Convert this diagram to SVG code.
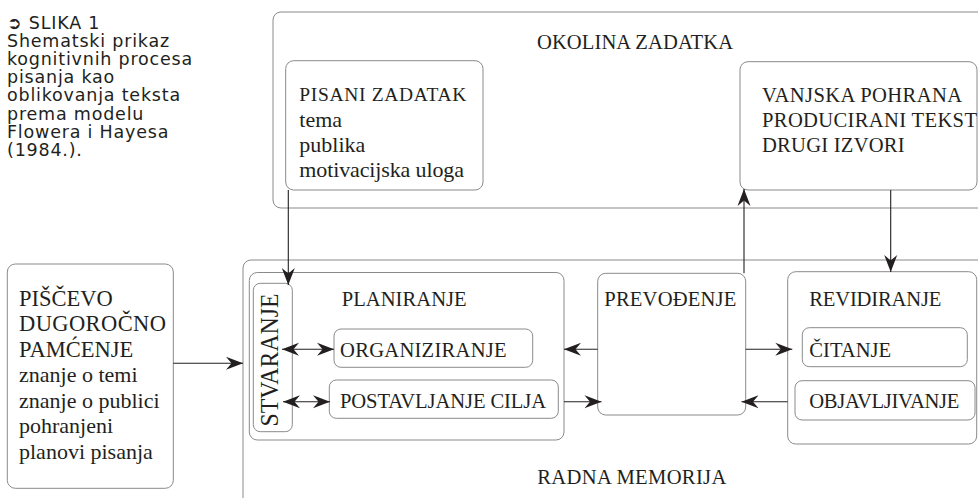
<svg xmlns="http://www.w3.org/2000/svg" width="978" height="498" viewBox="0 0 978 498">
<defs>
<style>
.box{fill:none;stroke:#8a8a8a;stroke-width:1}
.t{font-family:"Liberation Serif","Times New Roman",serif;font-size:20.6px;fill:#231f20}
.lc{font-size:22px}
.cap{font-family:"DejaVu Sans","Liberation Sans",sans-serif;font-size:17.5px;letter-spacing:0.8px;fill:#231f20}
.c{fill:none;stroke:#231f20;stroke-width:1.1}
</style>
<marker id="ah" viewBox="-18 -7 19 14" refX="0" refY="0" markerWidth="19" markerHeight="14" markerUnits="userSpaceOnUse" orient="auto-start-reverse">
<path d="M0,0 L-17,-6.5 L-11.5,0 L-17,6.5 Z" fill="#231f20"/>
</marker>
</defs>
<rect width="978" height="498" fill="#fff"/>

<g id="caption">
<text class="cap" x="7" y="28.5">➲ SLIKA 1</text>
<text class="cap" x="7" y="46.7">Shematski prikaz</text>
<text class="cap" x="7" y="64.9">kognitivnih procesa</text>
<text class="cap" x="7" y="83.1">pisanja kao</text>
<text class="cap" x="7" y="101.3">oblikovanja teksta</text>
<text class="cap" x="7" y="119.5">prema modelu</text>
<text class="cap" x="7" y="137.7">Flowera i Hayesa</text>
<text class="cap" x="7" y="155.9">(1984.).</text>
</g>

<g id="okolina">
<rect class="box" x="273" y="12" width="730" height="196" rx="8"/>
<text class="t" x="537" y="49" textLength="196">OKOLINA ZADATKA</text>
</g>

<g id="pisani">
<rect class="box" x="285.7" y="60.7" width="197.3" height="129.3" rx="8"/>
<text class="t" x="299.3" y="101" style="font-size:19.5px" textLength="167">PISANI ZADATAK</text>
<text class="t lc" x="299.3" y="126.7">tema</text>
<text class="t lc" x="299.3" y="151.7">publika</text>
<text class="t lc" x="299.3" y="176.7" textLength="164.7">motivacijska uloga</text>
</g>

<g id="vanjska">
<rect class="box" x="740" y="61.7" width="237" height="128.3" rx="8"/>
<text class="t" x="762" y="101.7" textLength="200">VANJSKA POHRANA</text>
<text class="t" x="762" y="126.7" textLength="215">PRODUCIRANI TEKST</text>
<text class="t" x="762" y="151.7" textLength="142.7">DRUGI IZVORI</text>
</g>

<g id="radna">
<rect class="box" x="243" y="260" width="760" height="280" rx="8"/>
<text class="t" x="537.3" y="484.3" textLength="189">RADNA MEMORIJA</text>
</g>

<g id="pisCevo">
<rect class="box" x="7.3" y="264" width="166" height="224.3" rx="8"/>
<text class="t" x="19" y="305.5" style="font-size:22.5px">PIŠČEVO</text>
<text class="t" x="19" y="331" style="font-size:22.5px" textLength="147">DUGOROČNO</text>
<text class="t" x="19" y="356.5" style="font-size:22.5px">PAMĆENJE</text>
<text class="t lc" x="19" y="382">znanje o temi</text>
<text class="t lc" x="19" y="407.5">znanje o publici</text>
<text class="t lc" x="19" y="433">pohranjeni</text>
<text class="t lc" x="19" y="458.5">planovi pisanja</text>
</g>

<g id="planiranje">
<rect class="box" x="249.3" y="272.5" width="314.7" height="167.5" rx="8"/>
<text class="t" x="341.7" y="306" textLength="125">PLANIRANJE</text>
</g>

<g id="stvaranje">
<rect class="box" x="253.3" y="283.3" width="39" height="148.4" rx="7"/>
<text class="t" transform="translate(278.3,360) rotate(-90)" x="0" y="0" text-anchor="middle" style="font-size:26px" textLength="133" lengthAdjust="spacingAndGlyphs">STVARANJE</text>
</g>

<g id="organiziranje">
<rect class="box" x="334" y="329" width="198.7" height="38.3" rx="7"/>
<text class="t" x="340" y="356.7" textLength="166.7">ORGANIZIRANJE</text>
</g>

<g id="postavljanje">
<rect class="box" x="329.3" y="380" width="229" height="38.3" rx="7"/>
<text class="t" x="340" y="407.7" textLength="206">POSTAVLJANJE CILJA</text>
</g>

<g id="prevodjenje">
<rect class="box" x="597.7" y="273.3" width="148" height="141.7" rx="8"/>
<text class="t" x="604.3" y="306" textLength="132">PREVOĐENJE</text>
</g>

<g id="revidiranje">
<rect class="box" x="787.7" y="271.7" width="189" height="172.3" rx="8"/>
<text class="t" x="809.3" y="306" textLength="132">REVIDIRANJE</text>
</g>

<g id="citanje">
<rect class="box" x="802.3" y="327.7" width="165" height="39" rx="7"/>
<text class="t" x="809.3" y="356.7">ČITANJE</text>
</g>

<g id="objavljivanje">
<rect class="box" x="795" y="380.7" width="180" height="39.3" rx="7"/>
<text class="t" x="809.3" y="407.7" textLength="150">OBJAVLJIVANJE</text>
</g>

<g id="connectors">
<path class="c" d="M288.3,190 V285" marker-end="url(#ah)"/>
<path class="c" d="M173.3,363.3 H243" marker-end="url(#ah)"/>
<path class="c" d="M282,349.3 H334" marker-start="url(#ah)" marker-end="url(#ah)"/>
<path class="c" d="M283,401.7 H330" marker-start="url(#ah)" marker-end="url(#ah)"/>
<path class="c" d="M597.7,349.3 H564" marker-end="url(#ah)"/>
<path class="c" d="M564,401.7 H601.5" marker-end="url(#ah)"/>
<path class="c" d="M745.7,349.3 H792.3" marker-end="url(#ah)"/>
<path class="c" d="M787.7,401.7 H741.5" marker-end="url(#ah)"/>
<path class="c" d="M744,273.3 V189" marker-end="url(#ah)"/>
<path class="c" d="M890.7,190 V272" marker-end="url(#ah)"/>
</g>
</svg>
